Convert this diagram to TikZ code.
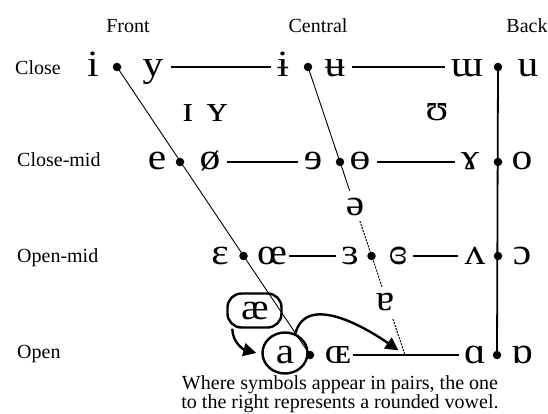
\documentclass[tikz,border=0pt]{standalone}
\usepackage{fontspec}
\setmainfont{Liberation Serif}
\newfontfamily\ipafont[FakeStretch=1.12]{Liberation Serif}
\usetikzlibrary{calc,arrows.meta,shapes.geometric}
\begin{document}
\begin{tikzpicture}[x=1pt,y=-1pt,
 lab/.style={font=\fontsize{20}{20}\selectfont, inner sep=0pt},
 ipa/.style={font=\ipafont\fontsize{37}{37}\selectfont, inner sep=0pt, anchor=base},
 vdot/.style={circle, fill=black, inner sep=0pt, minimum size=8.5pt},
 hline/.style={line width=1.1pt},
 fline/.style={line width=0.9pt},
 bline/.style={line width=1.8pt},
 dline/.style={line width=1pt, dash pattern=on 2pt off 1.2pt},
 ring/.style={draw, line width=2.4pt},
 arr/.style={line width=2.4pt, -{Triangle[length=13pt,width=13pt]}}]
\useasboundingbox (0,0) rectangle (548,414);
% headers
\node[lab, anchor=base] (hfront) at (128,33) {Front};
\node[lab, anchor=base] (hcentral) at (318,33) {Central};
\node[lab, anchor=base] (hback) at (527,33) {Back};
% row labels
\node[lab, anchor=base west] (rclose) at (15,75) {Close};
\node[lab, anchor=base west] (rclosemid) at (17,167) {Close-mid};
\node[lab, anchor=base west] (ropenmid) at (17,262) {Open-mid};
\node[lab, anchor=base west] (ropen) at (17,358) {Open};
% dots
\node[vdot] (d1) at (117,67) {};
\node[vdot] (d2) at (308,67) {};
\node[vdot] (d3) at (498,67) {};
\node[vdot] (d4) at (180,162) {};
\node[vdot] (d5) at (340,162) {};
\node[vdot] (d6) at (498,162) {};
\node[vdot] (d7) at (243.5,256) {};
\node[vdot] (d8) at (371.5,256) {};
\node[vdot] (d9) at (498,256) {};
\node[vdot] (d10) at (310,355) {};
\node[vdot] (d11) at (497,355) {};
\coordinate (cend) at (405,355);
% close row
\node[ipa] (vi) at (93,77) {i};
\node[ipa] (vy) at (153,77) {y};
\node[ipa] (vibar) at (283,77) {ɨ};
\node[ipa] (vubar) at (335,77) {ʉ};
\node[ipa] (vmu) at (467,77) {ɯ};
\node[ipa] (vu) at (528,77) {u};
% near close
\node[ipa] (vsi) at (188,122) {ɪ};
\node[ipa] (vsy) at (217,122) {ʏ};
\node[ipa] (vupsilon) at (437,121) {ʊ};
% close-mid
\node[ipa] (ve) at (157,170) {e};
\node[ipa] (voslash) at (210,170) {ø};
\node[ipa] (vreve) at (313,170) {ɘ};
\node[ipa] (vbaro) at (360,170) {ɵ};
\node[ipa] (vgamma) at (470,170) {ɤ};
\node[ipa] (vo) at (522,170) {o};
% schwa
\node[ipa] (vschwa) at (355,215) {ə};
% open-mid
\node[ipa] (veps) at (220,264) {ɛ};
\node[ipa] (voe) at (272,264) {œ};
\node[ipa] (vreveps) at (350,264) {ɜ};
\node[ipa] (vcloseps) at (398,264) {ɞ};
\node[ipa] (vwedge) at (475,264) {ʌ};
\node[ipa] (vopeno) at (522,264) {ɔ};
% near open
\node[ipa] (vturna) at (385,310) {ɐ};
\node[ipa] (vae) at (255,319) {æ};
% open
\node[ipa] (va) at (285,363) {a};
\node[ipa] (vsoe) at (338,363) {ɶ};
\node[ipa] (valpha) at (475,363) {ɑ};
\node[ipa] (vturnalpha) at (522,363) {ɒ};
% rings
\node[ring, rounded corners=14pt, minimum width=54pt, minimum height=34pt] (aebox) at (254.5,310.5) {};
\node[ring, ellipse, minimum width=45pt, minimum height=41pt] (acirc) at (285,353) {};
% front line
\draw[fline] (d1.center) -- (d10.center);
% central line
\draw[fline] (d2.center) -- ($(d2)!0.43!(cend)$);
\draw[dline] ($(d2)!0.535!(cend)$) -- ($(d2)!0.765!(cend)$);
\draw[dline] ($(d2)!0.875!(cend)$) -- (cend);
% back line
\draw[bline] (d3.center) -- (d11.center);
% horizontal lines
\draw[hline] ([xshift=7pt]vy.east |- d1) -- ([xshift=-6pt]vibar.west |- d1);
\draw[hline] ([xshift=6pt]vubar.east |- d2) -- ([xshift=-6pt]vmu.west |- d2);
\draw[hline] ([xshift=6pt]voslash.east |- d4) -- ([xshift=-6pt]vreve.west |- d4);
\draw[hline] ([xshift=6pt]vbaro.east |- d5) -- ([xshift=-6pt]vgamma.west |- d5);
\draw[hline] ([xshift=2pt]voe.east |- d7) -- ([xshift=-5pt]vreveps.west |- d7);
\draw[hline] ([xshift=6pt]vcloseps.east |- d8) -- ([xshift=-6pt]vwedge.west |- d8);
\draw[hline] ([xshift=2pt]vsoe.east |- d10) -- ([xshift=-5pt]valpha.west |- d10);
% arrows
\draw[arr] ([xshift=6pt]aebox.south west) to[out=-90,in=165] ([xshift=-5pt]acirc.west);
\draw[arr, shorten >=8pt] (acirc.62) to[out=75,in=145] (cend);
% caption
\node[lab, anchor=base] (cap1) at (340,389) {Where symbols appear in pairs, the one};
\node[lab, anchor=base] (cap2) at (340,408) {to the right represents a rounded vowel.};
\end{tikzpicture}
\end{document}
